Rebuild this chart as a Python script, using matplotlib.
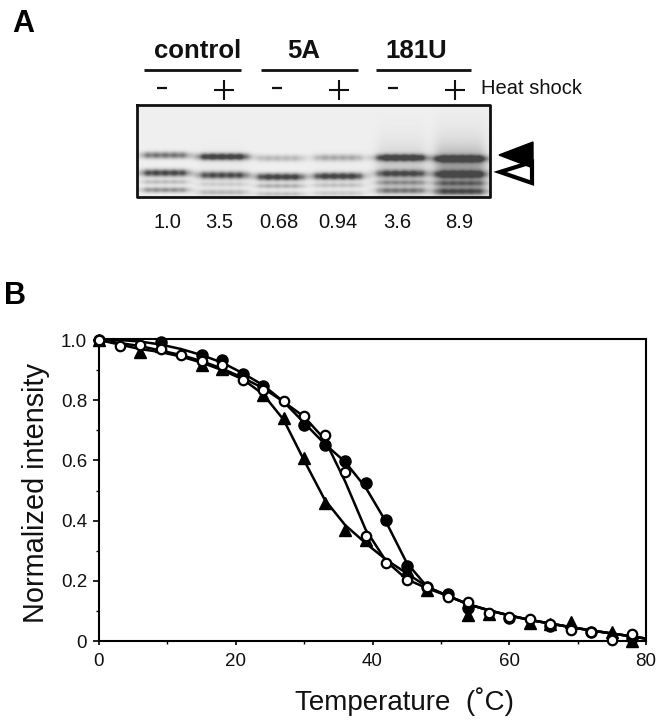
import numpy as np
import matplotlib
matplotlib.use("Agg")
import matplotlib.pyplot as plt
from matplotlib.patches import Polygon
from matplotlib.ticker import FixedFormatter, FixedLocator, MultipleLocator

plt.rcParams["font.family"] = ["Liberation Sans", "DejaVu Sans"]

# panel B: markers
open_x = [0, 3, 6, 9, 12, 15, 18, 21, 24, 27, 30, 33, 36, 39, 42, 45, 48, 51, 54, 57, 60, 63, 66, 69, 72, 75, 78]
open_y = [1.0, 0.98, 0.985, 0.97, 0.951, 0.931, 0.917, 0.867, 0.834, 0.797, 0.747, 0.684, 0.563, 0.35, 0.26,
          0.203, 0.179, 0.147, 0.13, 0.093, 0.08, 0.072, 0.056, 0.036, 0.031, 0.003, 0.024]
circle_x = [0, 9, 15, 18, 21, 24, 30, 33, 36, 39, 42, 45, 48, 51, 54, 60, 66, 72, 78]
circle_y = [1.0, 0.994, 0.95, 0.933, 0.887, 0.847, 0.718, 0.651, 0.598, 0.525, 0.402, 0.249, 0.18, 0.156, 0.11,
            0.075, 0.05, 0.03, 0.01]
tri_x = [0, 6, 9, 15, 18, 24, 27, 30, 33, 36, 39, 45, 48, 54, 57, 63, 66, 69, 75, 78]
tri_y = [1.0, 0.961, 0.98, 0.917, 0.904, 0.817, 0.741, 0.608, 0.459, 0.369, 0.336, 0.236, 0.17, 0.087, 0.09,
         0.06, 0.055, 0.064, 0.031, 0.0]

# panel B: fitted curves
fit_x = [0, 3, 6, 9, 12, 15, 18, 21, 24, 27, 30, 33, 36, 39, 42, 45, 48, 51, 54, 57, 60, 63, 66, 69, 72, 75, 78, 80]
fit_open = [1.0, 0.99, 0.98, 0.965, 0.95, 0.93, 0.905, 0.875, 0.84, 0.795, 0.745, 0.67, 0.53, 0.37, 0.265,
            0.205, 0.175, 0.15, 0.122, 0.102, 0.085, 0.07, 0.058, 0.046, 0.035, 0.025, 0.015, 0.008]
fit_circle = [1.0, 1.0, 0.995, 0.985, 0.97, 0.95, 0.925, 0.89, 0.85, 0.795, 0.725, 0.655, 0.595, 0.51, 0.395,
              0.26, 0.18, 0.15, 0.122, 0.102, 0.085, 0.07, 0.058, 0.046, 0.035, 0.025, 0.015, 0.008]
fit_tri = [1.0, 0.985, 0.97, 0.96, 0.945, 0.925, 0.9, 0.87, 0.82, 0.735, 0.6, 0.47, 0.385, 0.325, 0.27,
           0.225, 0.18, 0.15, 0.122, 0.102, 0.085, 0.07, 0.058, 0.046, 0.035, 0.025, 0.015, 0.008]
y_ticks = [0, 0.2, 0.4, 0.6, 0.8, 1.0]
y_tick_labels = ["0", "0.2", "0.4", "0.6", "0.8", "1.0"]

# panel A
group_labels = ["control", "5A", "181U"]
lane_signs = ["-", "+", "-", "+", "-", "+"]
lane_values = ["1.0", "3.5", "0.68", "0.94", "3.6", "8.9"]
upper_band = [0.5, 0.85, 0.22, 0.28, 0.85, 0.85]
lower_band = [0.72, 0.68, 0.78, 0.78, 0.62, 0.7]
sub_band_1 = [0.2, 0.12, 0.26, 0.18, 0.28, 0.3]
sub_band_2 = [0.38, 0.2, 0.18, 0.14, 0.36, 0.4]
smear = [0.0, 0.02, 0.0, 0.01, 0.14, 0.32]

lane_cx = [165, 223, 280, 338, 401, 460]
lane_hw = [23, 24, 23, 24, 24, 25]
upper_py = [155, 156.5, 158, 157.5, 157.5, 158.5]
lower_py = [172.7, 175, 176.7, 176, 173.3, 174]


def gel_image(x0, x1, y0, y1):
    xs = np.arange(x0, x1, 0.5)
    ys = np.arange(y0, y1, 0.5)
    xx, yy = np.meshgrid(xs, ys)
    dark = np.zeros_like(xx) + 0.06
    for i, cx in enumerate(lane_cx):
        lane = 1 / (1 + ((xx - cx) / lane_hw[i]) ** 8)
        # fine streaks inside the bands, like the scanned film
        streak = 0.92 + 0.08 * np.cos((xx - cx) * 0.7 + i)
        for strength, py, sig in [(upper_band[i], upper_py[i], 3.4), (lower_band[i], lower_py[i], 3.6),
                                  (sub_band_1[i], lower_py[i] + 9, 2.6), (sub_band_2[i], lower_py[i] + 17, 2.8)]:
            dark += strength * lane * streak * np.exp(-((yy - py) / sig) ** 2)
        up = np.where(yy < upper_py[i], np.exp(-(upper_py[i] - yy) / 14.0), 1.0)
        dark += smear[i] * lane * up * np.where(yy > lower_py[i] + 20, 0.6, 1.0)
    return 1 - np.clip(dark, 0, 0.72)


fig = plt.figure(figsize=(6.6, 7.2), dpi=100)

# overlay in pixel coordinates for panel A and the labels
ov = fig.add_axes([0, 0, 1, 1])
ov.set_xlim(0, 660)
ov.set_ylim(720, 0)
ov.axis("off")

ov.text(12, 32, "A", fontsize=22, fontweight="bold", ha="left", va="baseline")
ov.text(4, 304, "B", fontsize=22, fontweight="bold", ha="left", va="baseline")

group_text_px = [198, 304, 416]
group_line_px = [(144, 241), (261, 358), (376, 471)]
for name, tx, (a, b) in zip(group_labels, group_text_px, group_line_px):
    ov.text(tx, 58, name, fontsize=18.5, fontweight="bold", ha="center", va="baseline", color="#111111")
    ov.plot([a, b], [70, 70], color="#111111", lw=2.0, solid_capstyle="butt")

sign_px = [162, 224, 277, 339, 393, 455]
for s, px in zip(lane_signs, sign_px):
    if s == "+":
        ov.plot([px - 10, px + 10], [90, 90], color="#111111", lw=1.5, solid_capstyle="butt")
        ov.plot([px, px], [80, 100], color="#111111", lw=1.5, solid_capstyle="butt")
    else:
        ov.plot([px - 5, px + 5], [88, 88], color="#111111", lw=1.6, solid_capstyle="butt")
ov.text(481, 89, "Heat shock", fontsize=14.5, ha="left", va="center", color="#111111")

ov.imshow(gel_image(137, 490, 105, 197), cmap="gray", vmin=0, vmax=1, extent=(137, 490, 197, 105),
          interpolation="bilinear", aspect="auto", zorder=1)
ov.set_xlim(0, 660)
ov.set_ylim(720, 0)
ov.plot([137, 490, 490, 137, 137], [105, 105, 197, 197, 105], color="#111111", lw=2.0, zorder=2)

ov.add_patch(Polygon([[500, 172], [532, 162], [532, 183]], closed=True, fc="white", ec="black", lw=3, zorder=3))
ov.add_patch(Polygon([[499, 155], [533, 142], [533, 168]], closed=True, fc="black", ec="black", lw=1, zorder=4))

value_px = [167, 219, 279, 338, 397, 459]
for v, px in zip(lane_values, value_px):
    ov.text(px, 222, v, fontsize=14.5, ha="center", va="center", color="#111111")

ov.text(295, 710, "Temperature  (\u02daC)", fontsize=20, ha="left", va="baseline", color="#111111")
ov.text(36, 493, "Normalized intensity", fontsize=20.8, rotation=90, ha="center", va="center", color="#111111")

# panel B
ax = fig.add_axes([99 / 660, 1 - 641 / 720, (646 - 99) / 660, (641 - 338.5) / 720])
ax.patch.set_alpha(0)
ax.set_xlim(0, 80)
ax.set_ylim(0, 1.005)
for fy in (fit_open, fit_circle, fit_tri):
    ax.plot(fit_x, fy, color="black", lw=1.8, zorder=2, solid_joinstyle="round")
ax.plot(tri_x, tri_y, ls="none", marker="^", ms=8, mfc="black", mec="black", zorder=3, clip_on=False)
ax.plot(circle_x, circle_y, ls="none", marker="o", ms=8, mfc="black", mec="black", zorder=4, clip_on=False)
ax.plot(open_x, open_y, ls="none", marker="o", ms=6.8, mfc="white", mec="black", mew=1.6, zorder=5, clip_on=False)

ax.xaxis.set_major_locator(MultipleLocator(20))
ax.xaxis.set_minor_locator(MultipleLocator(10))
ax.yaxis.set_major_locator(FixedLocator(y_ticks))
ax.yaxis.set_major_formatter(FixedFormatter(y_tick_labels))
ax.yaxis.set_minor_locator(MultipleLocator(0.1))
ax.tick_params(axis="y", which="major", length=4.5, width=1.2, labelsize=13.5, pad=4, labelcolor="#111111")
ax.tick_params(axis="y", which="minor", length=2, width=1.0)
ax.tick_params(axis="x", which="major", length=3, width=1.2, labelsize=13.5, pad=6, labelcolor="#111111")
ax.tick_params(axis="x", which="minor", length=2, width=1.0)
for side in ax.spines.values():
    side.set_linewidth(1.5)

fig.savefig("out.png", dpi=100)
